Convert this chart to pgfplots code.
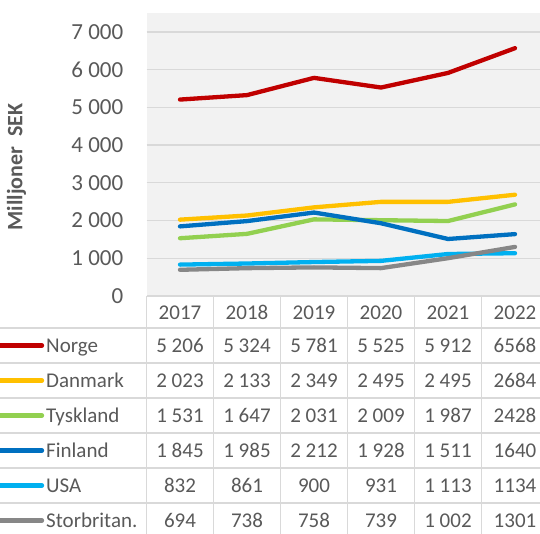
\documentclass[border=0pt]{standalone}
\usepackage{pgfplots}
\pgfplotsset{compat=1.18}
\usepackage{fontspec}
\setmainfont{Carlito}
\definecolor{txt}{HTML}{595959}
\definecolor{grd}{HTML}{D9D9D9}
\definecolor{bg}{HTML}{F2F2F2}
\definecolor{cNO}{HTML}{C00000}
\definecolor{cDK}{HTML}{FFC000}
\definecolor{cDE}{HTML}{92D050}
\definecolor{cFI}{HTML}{0070C0}
\definecolor{cUS}{HTML}{00B0F0}
\definecolor{cGB}{HTML}{878787}
\begin{document}
\begin{tikzpicture}[x=1pt,y=1pt]
\useasboundingbox (0,0) rectangle (540,533);
\begin{axis}[at={(146.5pt,237pt)}, anchor=south west, scale only axis,
  width=393.5pt, height=283pt,
  xmin=-0.5, xmax=5.373, ymin=0, ymax=7500,
  axis line style={draw=none},
  axis background/.style={fill=bg},
  ytick={0,1000,...,7000},
  yticklabels={0,1 000,2 000,3 000,4 000,5 000,6 000,7 000},
  xtick=\empty,
  ymajorgrids, grid style={grd, line width=1.3pt},
  major tick length=0pt,
  yticklabel style={font=\fontsize{23}{27}\selectfont, text=txt, anchor=east, inner sep=0pt, xshift=-23pt},
  every axis plot/.append style={line width=4.3pt, line cap=round, line join=round, mark=none},
]
\addplot[cNO] coordinates {(0,5206) (1,5324) (2,5781) (3,5525) (4,5912) (5,6568)};
\addplot[cDK] coordinates {(0,2023) (1,2133) (2,2349) (3,2495) (4,2495) (5,2684)};
\addplot[cDE] coordinates {(0,1531) (1,1647) (2,2031) (3,2009) (4,1987) (5,2428)};
\addplot[cFI] coordinates {(0,1845) (1,1985) (2,2212) (3,1928) (4,1511) (5,1640)};
\addplot[cUS] coordinates {(0,832) (1,861) (2,900) (3,931) (4,1113) (5,1134)};
\addplot[cGB] coordinates {(0,694) (1,738) (2,758) (3,739) (4,1002) (5,1301)};
\end{axis}
% y label
\node[rotate=90, text=txt, font=\fontsize{22}{26}\selectfont\bfseries, inner sep=0pt] at (16.5,366) {Milljoner\ \ SEK};
% table grid
\foreach \x in {146.5,213.5,280.5,347.5,414.5,481.5}
  \draw[grd, line width=1.3pt] (\x,237) -- (\x,-5);
\foreach \y in {205,170,135,100,65,30}
  \draw[grd, line width=1.3pt] (0,\y) -- (540,\y);
\tikzset{tbl/.style={text=txt, font=\fontsize{21}{25}\selectfont, anchor=base, inner sep=0pt}}
% years
\foreach \v [count=\i from 0] in {2017,2018,2019,2020,2021,2022}
  \node[tbl] at ({180+67*\i},213.4) {\v};
% legend keys and names
\foreach \c/\n [count=\k from 0] in {cNO/Norge,cDK/Danmark,cDE/Tyskland,cFI/Finland,cUS/USA,cGB/Storbritan.}{
  \draw[\c, line width=4.3pt, line cap=round] (-4,{187.5-35*\k}) -- (42,{187.5-35*\k});
  \node[tbl, anchor=base west] at (46,{180.9-35*\k}) {\n};
}
\foreach \v [count=\i from 0] in {5 206,5 324,5 781,5 525,5 912,6568}
  \node[tbl] at ({180+67*\i},180.9) {\v};
\foreach \v [count=\i from 0] in {2 023,2 133,2 349,2 495,2 495,2684}
  \node[tbl] at ({180+67*\i},145.9) {\v};
\foreach \v [count=\i from 0] in {1 531,1 647,2 031,2 009,1 987,2428}
  \node[tbl] at ({180+67*\i},110.9) {\v};
\foreach \v [count=\i from 0] in {1 845,1 985,2 212,1 928,1 511,1640}
  \node[tbl] at ({180+67*\i},75.9) {\v};
\foreach \v [count=\i from 0] in {832,861,900,931,1 113,1134}
  \node[tbl] at ({180+67*\i},40.9) {\v};
\foreach \v [count=\i from 0] in {694,738,758,739,1 002,1301}
  \node[tbl] at ({180+67*\i},5.9) {\v};
\end{tikzpicture}
\end{document}
